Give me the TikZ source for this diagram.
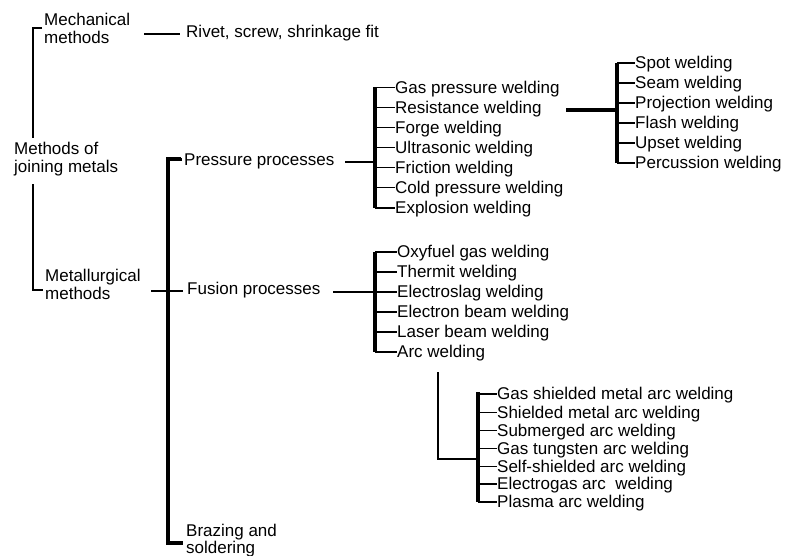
\documentclass[tikz,border=0pt]{standalone}
\usepackage{fontspec}
\setmainfont{Liberation Sans}
\begin{document}
\begin{tikzpicture}[x=1pt,y=-1pt,
  lbl/.style={anchor=west, inner sep=0pt, font=\fontsize{17}{17.5}\selectfont, align=left},
  item/.style={lbl, text height=12.2pt, text depth=0.3pt},
  bar/.style={line width=4pt},
  link/.style={line width=2.6pt},
  stub/.style={line width=1.2pt},
  thinline/.style={line width=1.8pt}]
\useasboundingbox[fill=white] (0,0) rectangle (786,556);

% level 0 / 1
\node[lbl] (root) at (14,159) {Methods of\\joining metals};
\node[lbl] (mech) at (44,28.5) {Mechanical\\methods};
\node[lbl] (metal) at (45,284.5) {Metallurgical\\methods};
\node[item] (rivet) at (186,32) {Rivet, screw, shrinkage fit};

% level 2
\node[item] (press) at (184,160) {Pressure processes};
\node[item] (fus) at (187,289) {Fusion processes};
\node[lbl] (braz) at (186,540.5) {Brazing and\\soldering};

% pressure items
\node[item] (p1) at (395,87.3) {Gas pressure welding};
\node[item] (p2) at (395,107.3) {Resistance welding};
\node[item] (p3) at (395,127.3) {Forge welding};
\node[item] (p4) at (395,147.3) {Ultrasonic welding};
\node[item] (p5) at (395,167.3) {Friction welding};
\node[item] (p6) at (395,187.3) {Cold pressure welding};
\node[item] (p7) at (395,208) {Explosion welding};

% resistance items
\node[item] (r1) at (635,63) {Spot welding};
\node[item] (r2) at (635,83) {Seam welding};
\node[item] (r3) at (635,103) {Projection welding};
\node[item] (r4) at (635,123) {Flash welding};
\node[item] (r5) at (635,143) {Upset welding};
\node[item] (r6) at (635,163) {Percussion welding};

% fusion items
\node[item] (f1) at (397,252) {Oxyfuel gas welding};
\node[item] (f2) at (397,272) {Thermit welding};
\node[item] (f3) at (397,292) {Electroslag welding};
\node[item] (f4) at (397,312) {Electron beam welding};
\node[item] (f5) at (397,332) {Laser beam welding};
\node[item] (f6) at (397,352) {Arc welding};

% arc items
\node[item] (a1) at (497,394) {Gas shielded metal arc welding};
\node[item] (a2) at (497,412.5) {Shielded metal arc welding};
\node[item] (a3) at (497,430.5) {Submerged arc welding};
\node[item] (a4) at (497,448.5) {Gas tungsten arc welding};
\node[item] (a5) at (497,466.5) {Self-shielded arc welding};
\node[item] (a6) at (497,484) {Electrogas arc\ \ welding};
\node[item] (a7) at (497,502) {Plasma arc welding};

% bar coordinates
\coordinate (lx) at (33,0);
\coordinate (mx) at (168,0);
\coordinate (px) at (375,0);
\coordinate (rx) at (617,0);
\coordinate (ax) at (478,0);
\coordinate (arcx) at (438,0);

% root bracket
\draw[thinline] ([xshift=-2pt]mech.west |- 0,28) -| (lx |- 0,138);
\draw[thinline] (lx |- 0,184) |- ([xshift=-2pt]metal.west |- 0,290);

% mechanical -> rivet
\draw[link] ([xshift=-42pt]rivet.west |- 0,34) -- ([xshift=-6pt]rivet.west |- 0,34);

% metallurgical bar
\draw[link] (151,291) -- ([xshift=-4pt]fus.west |- 0,291);
\draw[bar] ([xshift=-3pt]press.west |- 0,159.5) -| (mx |- 0,543) -- ([xshift=-3pt]braz.west |- 0,543);
\draw[bar,line cap=rect,line width=3.5pt] (mx |- 0,159.5) -- ++(12,0);

% pressure
\draw[link] (345,162) -- (px |- 0,162);
\draw[bar] (px |- p1.west) -- (px |- p7.west);
\foreach \n in {p1,p2,p3,p4,p5,p6,p7} \draw[stub] (px |- \n.west) -- (\n.west);

% resistance
\draw[bar] (566,110) -- (rx |- 0,110);
\draw[bar] (rx |- r1.west) -- (rx |- r6.west);
\foreach \n in {r1,r2,r3,r4,r5,r6} \draw[stub] (rx |- \n.west) -- (\n.west);

% fusion
\draw[link] (333,292) -- (px |- 0,292);
\draw[bar] (px |- f1.west) -- (px |- f6.west);
\foreach \n in {f1,f2,f3,f4,f5,f6} \draw[stub] (px |- \n.west) -- (\n.west);

% arc
\draw[thinline] (arcx |- 0,372) |- (ax |- 0,459);
\draw[bar] (ax |- 0,392) -- (ax |- a7.west);
\foreach \n in {a1,a2,a3,a4,a5,a6,a7} \draw[stub] (ax |- \n.west) -- (\n.west);
\end{tikzpicture}
\end{document}
